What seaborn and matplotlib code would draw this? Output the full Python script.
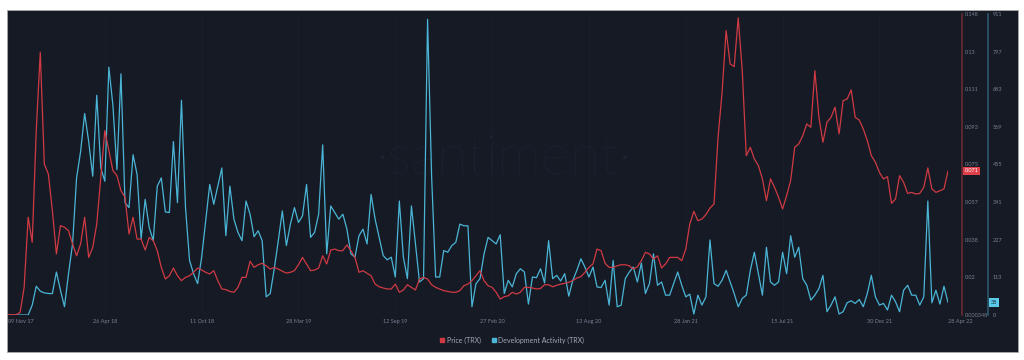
import numpy as np
import pandas as pd
import matplotlib
matplotlib.use("Agg")
import matplotlib.pyplot as plt
import seaborn as sns
from matplotlib.patches import Rectangle
from matplotlib.lines import Line2D

# ---------------- data (weekly, 09 Nov 2017 -> 28 Apr 2022) ----------------
price = [
    0.0005, 0.0005, 0.0005, 0.0016, 0.0139, 0.0483, 0.0360, 0.0908, 0.1292, 0.0744,
    0.0695, 0.0515, 0.0303, 0.0442, 0.0434, 0.0417, 0.0352, 0.0294, 0.0352, 0.0483,
    0.0286, 0.0335, 0.0450, 0.0679, 0.0908, 0.0810, 0.0712, 0.0687, 0.0613, 0.0581,
    0.0401, 0.0483, 0.0376, 0.0376, 0.0322, 0.0384, 0.0368, 0.0319, 0.0237, 0.0180,
    0.0196, 0.0234, 0.0196, 0.0172, 0.0188, 0.0196, 0.0213, 0.0234, 0.0224, 0.0213,
    0.0205, 0.0221, 0.0172, 0.0131, 0.0128, 0.0119, 0.0115, 0.0139, 0.0188, 0.0188,
    0.0267, 0.0237, 0.0250, 0.0257, 0.0245, 0.0229, 0.0237, 0.0229, 0.0218, 0.0209,
    0.0213, 0.0221, 0.0250, 0.0286, 0.0254, 0.0221, 0.0224, 0.0234, 0.0294,
    0.0254, 0.0322, 0.0327, 0.0319, 0.0319, 0.0347, 0.0319, 0.0286, 0.0213, 0.0221,
    0.0208, 0.0196, 0.0155, 0.0142, 0.0136, 0.0131, 0.0131, 0.0155, 0.0115, 0.0126,
    0.0152, 0.0139, 0.0126, 0.0180, 0.0188, 0.0180, 0.0152, 0.0139, 0.0131, 0.0123,
    0.0119, 0.0115, 0.0115, 0.0123, 0.0147, 0.0155, 0.0172, 0.0196, 0.0221,
    0.0172, 0.0147, 0.0139, 0.0115, 0.0082, 0.0093, 0.0098, 0.0115, 0.0106, 0.0115,
    0.0139, 0.0139, 0.0136, 0.0131, 0.0134, 0.0152, 0.0152, 0.0142, 0.0149, 0.0155,
    0.0159, 0.0164, 0.0172, 0.0185, 0.0191, 0.0213, 0.0237, 0.0254, 0.0327, 0.0319,
    0.0257, 0.0237, 0.0237, 0.0245, 0.0250, 0.0250, 0.0245, 0.0229, 0.0240,
    0.0270, 0.0311, 0.0303, 0.0278, 0.0294, 0.0234, 0.0254, 0.0286, 0.0286, 0.0286,
    0.0270, 0.0327, 0.0450, 0.0512, 0.0466, 0.0474, 0.0496, 0.0528, 0.0548, 0.0875,
    0.1096, 0.1399, 0.1235, 0.1222, 0.1461, 0.1202, 0.0785, 0.0826, 0.0769, 0.0736,
    0.0671, 0.0564, 0.0671, 0.0630, 0.0581, 0.0524, 0.0589, 0.0663, 0.0826, 0.0843,
    0.0883, 0.0941, 0.0924, 0.1202, 0.0973, 0.0851, 0.0949, 0.0973, 0.1023, 0.0892,
    0.1055, 0.1063, 0.1108, 0.0973, 0.0960, 0.0916, 0.0859, 0.0785, 0.0753, 0.0703,
    0.0671, 0.0682, 0.0551, 0.0573, 0.0687, 0.0654, 0.0600, 0.0605, 0.0597, 0.0600,
    0.0630, 0.0725, 0.0622, 0.0605, 0.0613, 0.0622, 0.0710,
]

dev_activity = [
    0, 0, 0, 0, 0, 0, 30, 87, 72, 67,
    65, 65, 130, 75, 25, 125, 215, 415, 495, 610,
    525, 420, 665, 445, 405, 750, 635, 440, 730, 340,
    325, 485, 425, 230, 350, 265, 225, 390, 415, 312,
    310, 525, 340, 650, 325, 165, 125, 95, 175, 285,
    395, 335, 390, 445, 240, 390, 290, 250, 225, 345,
    305, 237, 255, 225, 55, 65, 140, 225, 315, 210,
    275, 325, 280, 300, 395, 235, 250, 305, 515,
    185, 330, 310, 290, 305, 260, 185, 175, 240, 260,
    215, 365, 290, 235, 180, 167, 175, 115, 345, 175,
    110, 330, 215, 100, 110, 895, 420, 115, 115, 195,
    190, 210, 220, 275, 270, 270, 25, 95, 110,
    185, 235, 225, 215, 243, 65, 105, 85, 125, 140,
    130, 33, 115, 113, 140, 97, 225, 110, 120, 103,
    125, 57, 105, 135, 170, 145, 115, 145, 85, 83,
    105, 30, 165, 25, 30, 110, 130, 145, 100,
    157, 65, 95, 185, 90, 100, 60, 60, 95, 130,
    90, 55, 63, 3, 60, 30, 55, 227, 95, 87,
    105, 135, 100, 65, 25, 50, 60, 135, 190, 125,
    60, 205, 100, 90, 100, 190, 125, 240, 175, 205,
    110, 90, 45, 60, 80, 120, 10, 30, 55, 3,
    10, 37, 43, 35, 47, 25, 65, 120, 55, 30,
    35, 15, 60, 40, 10, 75, 90, 60, 60, 30,
    55, 345, 37, 75, 33, 87, 38,
]

start_date = "2017-11-09"
end_date = "2022-04-28"

x_tick_dates = ["2017-11-09", "2018-04-26", "2018-10-11", "2019-03-28", "2019-09-12",
                "2020-02-27", "2020-08-13", "2021-01-28", "2021-07-15", "2021-12-30",
                "2022-04-28"]
x_tick_labels = ["09 Nov 17", "26 Apr 18", "11 Oct 18", "28 Mar 19", "12 Sep 19",
                 "27 Feb 20", "13 Aug 20", "28 Jan 21", "15 Jul 21", "30 Dec 21",
                 "28 Apr 22"]

price_range = (0.000348, 0.148)
price_tick_labels = ["0.000348", "0.02", "0.038", "0.057", "0.075", "0.093",
                     "0.111", "0.13", "0.148"]
dev_range = (0, 911)
dev_tick_labels = ["0", "113", "227", "341", "455", "569", "683", "797", "911"]

series_names = ["Price (TRX)", "Development Activity (TRX)"]

# ---------------- styling ----------------
BG = "#161a25"
RED = "#cf3a43"
CYAN = "#4ab5d6"
TXT = "#7a8192"

sns.set_theme(style="dark")
plt.rcParams["font.family"] = ["Lato", "DejaVu Sans"]

dates = pd.date_range(start_date, periods=len(price), freq="7D")
df = pd.DataFrame({"date": dates, "price": price, "dev": dev_activity})

W, H = 1024, 360
fig = plt.figure(figsize=(W / 100, H / 100), dpi=100, facecolor="white")
fig.patches.append(Rectangle((7 / W, 8 / H), (1018 - 7) / W, (352 - 10) / H,
                             transform=fig.transFigure, facecolor=BG,
                             edgecolor="#a8a8a8", linewidth=0.6, zorder=-10))

left_px, right_px, top_px, bottom_px = 8, 948, 14, 315
ax = fig.add_axes([left_px / W, (H - bottom_px) / H,
                   (right_px - left_px) / W, (bottom_px - top_px) / H])
ax.patch.set_alpha(0)
axp = ax.twinx()
axp.patch.set_alpha(0)

# watermark
ax.text(0.527, 0.52, "·santiment·", transform=ax.transAxes, ha="center",
        va="center", fontsize=40, color="#1f2434", fontweight="light",
        family=["Lato", "DejaVu Sans"], zorder=0)

sns.lineplot(data=df, x="date", y="dev", ax=ax, color=CYAN, linewidth=0.9)
sns.lineplot(data=df, x="date", y="price", ax=axp, color=RED, linewidth=0.9)

ax.set_xlim(pd.Timestamp(start_date), pd.Timestamp(end_date))
ax.set_ylim(*dev_range)
axp.set_ylim(*price_range)

for a in (ax, axp):
    a.set_xlabel("")
    a.set_ylabel("")
    for s in ("left", "top", "bottom", "right"):
        a.spines[s].set_visible(False)

# x axis
ax.set_xticks(pd.to_datetime(x_tick_dates))
ax.set_xticklabels(x_tick_labels)
ax.tick_params(axis="x", length=0, pad=3, labelsize=4, labelcolor=TXT)
xl = ax.get_xticklabels()
xl[0].set_horizontalalignment("left")
xl[-1].set_horizontalalignment("left")
ax.grid(axis="x", color="#1b1f2c", linewidth=0.6)
ax.grid(axis="y", visible=False)
axp.grid(False)

# price axis (red)
price_pos = (962 - left_px) / (right_px - left_px)
axp.spines["right"].set_visible(True)
axp.spines["right"].set_position(("axes", price_pos))
axp.spines["right"].set_color("#6a2a31")
axp.spines["right"].set_linewidth(1.2)
axp.set_yticks(np.linspace(*price_range, len(price_tick_labels)))
axp.set_yticklabels(price_tick_labels)
axp.tick_params(axis="y", length=0, pad=2, labelsize=4, labelcolor=TXT)

# dev axis (cyan)
dev_pos = (988 - left_px) / (right_px - left_px)
ax.yaxis.tick_right()
ax.spines["right"].set_visible(True)
ax.spines["right"].set_position(("axes", dev_pos))
ax.spines["right"].set_color("#2c586d")
ax.spines["right"].set_linewidth(1.2)
ax.set_yticks(np.linspace(*dev_range, len(dev_tick_labels)))
ax.set_yticklabels(dev_tick_labels)
ax.tick_params(axis="y", length=0, pad=3.5, labelsize=4, labelcolor=TXT)
ax.tick_params(axis="y", left=False, labelleft=False)

# current-value badges
axp.text(price_pos + 0.003, price[-1], f"{price[-1]:.3f}",
         transform=axp.get_yaxis_transform(), ha="left", va="center",
         fontsize=4, color="white",
         bbox=dict(boxstyle="square,pad=0.25", facecolor="#e0404a", edgecolor="none"),
         clip_on=False, zorder=5)
ax.text(dev_pos + 0.003, dev_activity[-1], f"{dev_activity[-1]}",
        transform=ax.get_yaxis_transform(), ha="left", va="center",
        fontsize=4, color="#10303c",
        bbox=dict(boxstyle="square,pad=0.3", facecolor="#5ccbea", edgecolor="none"),
        clip_on=False, zorder=5)

# legend
handles = [Line2D([], [], marker="s", linestyle="", color=RED, markersize=3),
           Line2D([], [], marker="s", linestyle="", color=CYAN, markersize=3)]
fig.legend(handles, series_names, loc="center", bbox_to_anchor=(512 / W, 1 - 340 / H),
           ncol=2, frameon=False, fontsize=5, labelcolor="#a3a9b6",
           handletextpad=0.3, columnspacing=1.4, handlelength=0.8)

fig.savefig("out.png", dpi=100, facecolor="white")
